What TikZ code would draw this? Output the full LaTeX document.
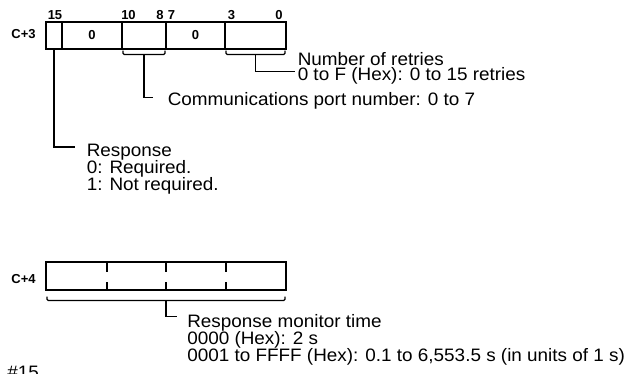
\documentclass[tikz,border=0pt]{standalone}
\usepackage{fontspec}
\setmainfont{Liberation Sans}
\newfontfamily\lblfont[FakeStretch=1.05]{Liberation Sans}
\usetikzlibrary{calc}
\begin{document}
\begin{tikzpicture}[x=1pt,y=-1pt,line width=1.5pt,
  txt/.style={font=\lblfont\fontsize{18}{16.7}\selectfont,anchor=base west,inner sep=0pt},
  bit/.style={font=\bfseries\fontsize{13}{14}\selectfont,anchor=base,inner sep=0pt},
  cell/.style={draw,minimum height=27pt,inner sep=0pt,outer sep=0pt,font=\bfseries\fontsize{13}{14}\selectfont},
  brace/.style={line width=1.3pt,rounded corners=1.2pt},
  lead/.style={line width=1.5pt},
  divider/.style={line width=1.3pt,dash pattern=on 10pt off 10pt on 8pt}]
\useasboundingbox (0,0) rectangle (643,373);
\clip (0,0) rectangle (643,373);
% register C+3
\node[bit] (c3) at (23.5,38.5) {C+3};
\node[cell,minimum width=16pt] (r) at (54,35.5) {};
\node[cell,minimum width=60pt] (z1) at (92,35.5) {0};
\node[cell,minimum width=44pt] (port) at (144,35.5) {};
\node[cell,minimum width=59pt] (z2) at (195.5,35.5) {0};
\node[cell,minimum width=61pt] (retr) at (255.5,35.5) {};
\node[bit] (b15) at (55,19.5) {15};
\node[bit] (b10) at (128.5,19.5) {10};
\node[bit] (b8) at (160,19.5) {8};
\node[bit] (b7) at (171.5,19.5) {7};
\node[bit] (b3) at (231.5,19.5) {3};
\node[bit] (b0) at (279,19.5) {0};
% braces under C+3
\draw[brace] ($(port.south west)+(1,1.5)$) |- ($(port.south)+(0,5.5)$) -| ($(port.south east)+(-1,1.5)$);
\draw[brace] ($(retr.south west)+(1,1.5)$) |- ($(retr.south)+(0,5.5)$) -| ($(retr.south east)+(-1,1.5)$);
\coordinate (pb) at ($(port.south)+(0,5.5)$);
\coordinate (rb) at ($(retr.south)+(0,5.5)$);
% texts
\node[txt] (ret1) at (297,65) {Number of retries};
\node[txt] (ret2) at (297,80.7) {0 to F (Hex): 0 to 15 retries};
\node[txt] (port1) at (167,105.5) {Communications port number: 0 to 7};
\node[txt] (resp1) at (86,156.7) {Response};
\node[txt] (resp2) at (86,173.3) {0: Required.};
\node[txt] (resp3) at (86,190) {1: Not required.};
% leaders
\coordinate (retend) at (295,71.7);
\coordinate (portend) at (153,97.7);
\coordinate (respend) at (75,147);
\draw[lead] (rb) |- (retend);
\draw[lead] (pb) |- (portend);
\draw[lead] (r.south) |- (respend);
% register C+4
\node[bit] (c4) at (23.5,283.5) {C+4};
\node[cell,minimum width=240pt,minimum height=28pt] (m) at (166,276) {};
\draw[divider] (107,262) -- (107,290);
\draw[divider] (166,262) -- (166,290);
\draw[divider] (226,262) -- (226,290);
\draw[brace] ($(m.south west)+(1,6.5)$) |- ($(m.south)+(0,10.5)$) -| ($(m.south east)+(-1,6.5)$);
\coordinate (mb) at ($(m.south)+(0,10.5)$);
\coordinate (monend) at (176.7,316.7);
\draw[lead] (mb) |- (monend);
\node[txt] (mon1) at (186.5,327.7) {Response monitor time};
\node[txt] (mon2) at (186.5,344.3) {0000 (Hex): 2 s};
\node[txt] (mon3) at (186.5,361) {0001 to FFFF (Hex): 0.1 to 6,553.5 s (in units of 1 s)};
\node[txt] (fig) at (6.5,378) {\#15};
\end{tikzpicture}
\end{document}
